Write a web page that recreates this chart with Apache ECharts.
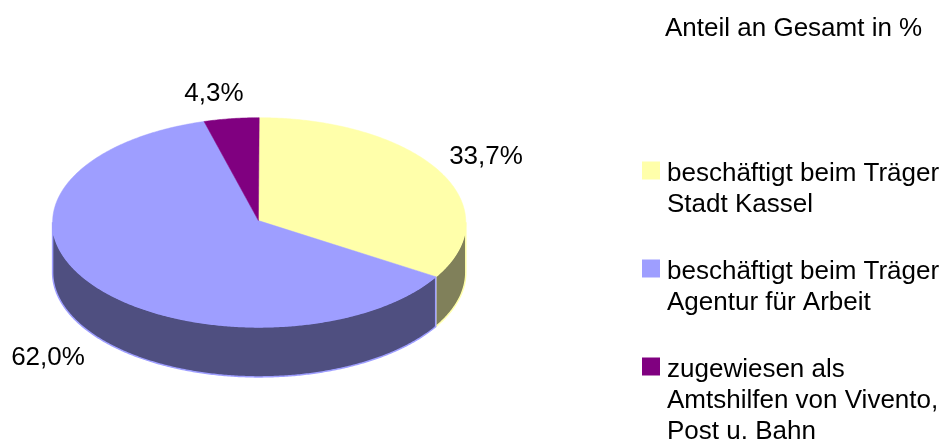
<!DOCTYPE html>
<html><head><meta charset="utf-8">
<style>html,body{margin:0;padding:0;background:#fff}#c{width:944px;height:441px}</style>
<script src="https://cdn.jsdelivr.net/npm/echarts@6/dist/echarts.min.js"></script>
</head><body><div id="c"></div>
<script>
const categories = ['beschäftigt beim Träger\nStadt Kassel','beschäftigt beim Träger\nAgentur für Arbeit','zugewiesen als\nAmtshilfen von Vivento,\nPost u. Bahn'];
const shares = [33.7, 62.0, 4.3];
const shareLabels = ['33,7%','62,0%','4,3%'];
const topColors = ['#FFFFAA','#9E9EFF','#800080'];
const sideColors = ['#80805A','#4F4F80','#400040'];
const titleText = 'Anteil an Gesamt in %';

// layout of the tilted pie
const CX = 259.2, CY = 222.3, RX = 206.6, RY = 104.6, DEPTH = 50, HUB_X = 258.4, HUB_Y = 220.6;
const LABEL_CENTRES = [[486,157],[48,358],[214,94]];
const LEGEND_TOPS = [158,256,354], LEGEND_H = [62,62,94];

const total = shares.reduce((a,b)=>a+b,0);
function rim(deg, dy){ const t = deg*Math.PI/180; return [CX+RX*Math.sin(t), CY-RY*Math.cos(t)+(dy||0)]; }
function arc(a,b,dy){ const n=Math.max(2,Math.ceil(Math.abs(b-a)*2)); const p=[]; for(let i=0;i<=n;i++) p.push(rim(a+(b-a)*i/n,dy)); return p; }

function renderSlice(params, api){
  const i = params.seriesIndex;
  const start = shares.slice(0,i).reduce((a,b)=>a+b,0)/total*360;
  const end = start + api.value(0)/total*360;
  const children = [];
  // visible wall: the part of the slice on the front half of the disc
  const a = Math.max(start,90), b = Math.min(end,270);
  if (b>a){
    const top = arc(a,b,0), bottom = arc(a,b,DEPTH).reverse();
    children.push({type:'polygon', z2:1, shape:{points:top.concat(bottom)},
      style:{fill:sideColors[i], stroke:topColors[i], lineWidth:1.5}});
  }
  children.push({type:'polygon', z2:2, shape:{points:[[HUB_X,HUB_Y]].concat(arc(start,end,0))},
    style:{fill:topColors[i], stroke:topColors[i], lineWidth:0.5}});
  children.push({type:'text', z2:3, x:LABEL_CENTRES[i][0], y:LABEL_CENTRES[i][1],
    style:{text:shareLabels[i], fill:'#000', font:'26px "Liberation Sans"', align:'center', verticalAlign:'middle'}});
  return {type:'group', children};
}

function icon(h){ return 'path://M0 0L0 0M20 '+h+'L20 '+h+'M0 3.5H18V21.5H0Z'; }

const option = {
  animation:false,
  backgroundColor:'#fff',
  title:{text:titleText, left:660, top:11, textStyle:{fontFamily:'Liberation Sans',fontSize:26,fontWeight:'normal',color:'#000'}},
  legend: categories.map((name,i)=>({
    left:642, top:LEGEND_TOPS[i], padding:0, orient:'vertical', selectedMode:false,
    itemWidth:20, itemHeight:LEGEND_H[i], symbolKeepAspect:false,
    data:[{name, icon:icon(LEGEND_H[i]), itemStyle:{color:topColors[i]}}],
    textStyle:{fontFamily:'Liberation Sans',fontSize:26,lineHeight:31,color:'#000'}
  })),
  series: categories.map((name,i)=>({
    type:'custom', name, coordinateSystem:'none', silent:true,
    itemStyle:{color:topColors[i]},
    data:[[shares[i]]], renderItem:renderSlice
  }))
};
echarts.init(document.getElementById('c')).setOption(option);
</script></body></html>
